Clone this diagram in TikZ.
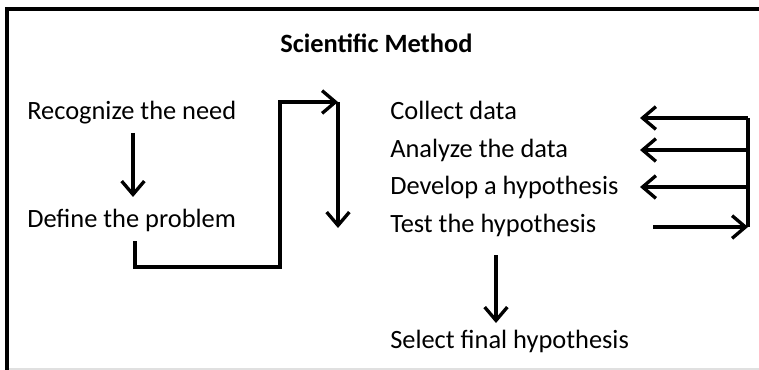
\documentclass[tikz,border=0pt]{standalone}
\usepackage{fontspec}
\setmainfont{Carlito}
\usetikzlibrary{arrows.meta}
\tikzset{txt/.style = {anchor = base west, inner sep = 0, font = \fontsize{19.8}{24}\selectfont}}
\tikzset{ttl/.style = {txt, font = \fontsize{19.8}{24}\selectfont\bfseries}}
\tikzset{arr/.style = {line width = 2.5pt, -{Straight Barb[length = 10pt, width = 17pt]}}}
\tikzset{rail/.style = {line width = 2.5pt}}
\definecolor{mgray}{rgb}{0.88, 0.88, 0.88}

\begin{document}
\begin{tikzpicture}[x = 0.75pt, y = -0.75pt]
      \useasboundingbox (0, 0) rectangle (759, 370);
      \draw [mgray, line width = 1.5pt] (7, 369) -- (759, 369);
      \draw [line width = 2.5pt] (7, 380) -- (7, 9) -- (770, 9);

      \node [ttl] (title) at (280, 53) {Scientific Method};
      \node [txt] (need) at (27, 120) {Recognize the need};
      \node [txt] (prob) at (27, 228) {Define the problem};
      \node [txt] (collect) at (390, 120) {Collect data};
      \node [txt] (analyze) at (390, 158) {Analyze the data};
      \node [txt] (develop) at (390, 195) {Develop a hypothesis};
      \node [txt] (test) at (390, 233) {Test the hypothesis};
      \node [txt] (final) at (390, 348) {Select final hypothesis};

      % vertical arrow ends
      \coordinate (n1) at (133, 133);
      \coordinate (n2) at (133, 197);
      \coordinate (p1) at (135, 241);
      \coordinate (t1) at (496, 255);
      \coordinate (t2) at (496, 323);
      % the step up to the second column
      \coordinate (turn) at (280, 267);
      \coordinate (top) at (338, 102);
      \coordinate (low) at (338, 228);
      % right hand loop
      \coordinate (r1) at (748, 118);
      \coordinate (r2) at (748, 150);
      \coordinate (r3) at (748, 187);
      \coordinate (r4) at (748, 227);
      \coordinate (tip) at (640, 0);
      \coordinate (start) at (653, 0);

      \draw [arr] (n1) -- (n2);
      \draw [arr] (p1) |- (turn) |- (top);
      \draw [arr] (top) -- (low);

      \draw [rail] (r1) -- (r4);
      \foreach \r in {r1, r2, r3}
        \draw [arr] (\r) -- (\r -| tip);
      \draw [arr] (r4 -| start) -- (r4);

      \draw [arr] (t1) -- (t2);
    \end{tikzpicture}
\end{document}
